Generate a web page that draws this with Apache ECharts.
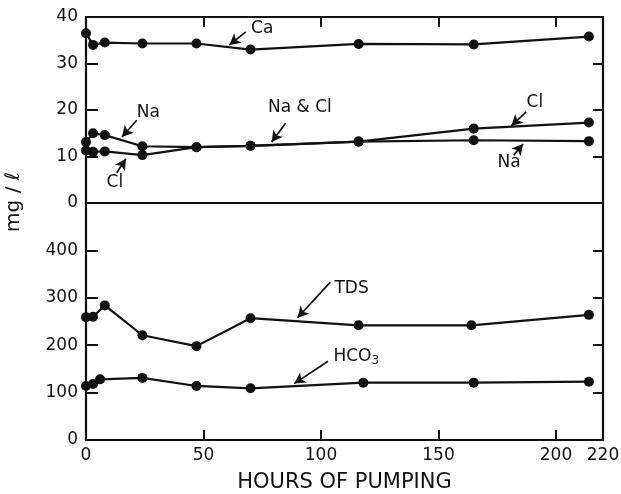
<!DOCTYPE html>
<html><head><meta charset="utf-8">
<script src="https://cdn.jsdelivr.net/npm/echarts@6/dist/echarts.min.js"></script>
<style>html,body{margin:0;padding:0;background:#fff}#c{width:621px;height:494px}</style>
</head><body><div id="c"></div>
<script>
// ---- data ----
const caHours   = [0, 3, 8, 24, 47, 70, 116, 165, 214];
const caValues  = [36.5, 34.0, 34.5, 34.3, 34.3, 33.0, 34.2, 34.1, 35.8];
const naHours   = [0, 3, 8, 24, 47, 70, 116, 165, 214];
const naValues  = [13.1, 15.0, 14.6, 12.2, 12.0, 12.3, 13.2, 13.5, 13.3];
const clHours   = [0, 3, 8, 24, 47, 70, 116, 165, 214];
const clValues  = [11.3, 11.0, 11.1, 10.3, 12.0, 12.3, 13.2, 16.0, 17.3];
const tdsHours  = [0, 3, 8, 24, 47, 70, 116, 164, 214];
const tdsValues = [259, 260, 284, 221, 198, 257, 242, 242, 264];
const hco3Hours = [0, 3, 6, 24, 47, 70, 118, 165, 214];
const hco3Values= [114, 118, 128, 131, 114, 109, 121, 121, 123];
const xTicks = [0, 50, 100, 150, 200, 220];
const topTicks = [0, 10, 20, 30, 40];
const bottomTicks = [0, 100, 200, 300, 400];

const FONT = 'DejaVu Sans';
const K = '#111';
function zip(h, v){ return h.map((x,i)=>[x, v[i]]); }

function ann(labels, arrows, curv){
  return {
    markLine: {
      silent: true, animation: false,
      symbol: ['none','arrow'], symbolSize: [9, 11],
      label: {show:false},
      lineStyle: {color: K, width: 1.7, type: 'solid', curveness: curv || 0},
      data: arrows.map(a => [{coord: a[0]}, {coord: a[1]}])
    },
    markPoint: {
      silent: true, animation: false,
      symbolSize: 0,
      data: labels.map(l => ({coord: l.at, value: l.t,
        label: {show: true, position: 'inside', formatter: l.t,
          color: K, fontFamily: FONT, fontSize: 17,
          rich: {sub: {fontSize: 12, fontFamily: FONT, color: K, padding: [9,0,0,0]}}}}))
    }
  };
}

function line(name, data, xi, yi, extra){
  return Object.assign({
    name, type: 'line', data, xAxisIndex: xi, yAxisIndex: yi,
    symbol: 'circle', symbolSize: 10, showSymbol: true,
    lineStyle: {color: K, width: 2.2}, itemStyle: {color: K},
    animation: false, z: 5
  }, extra || {});
}

const axisLine = {show: true, onZero: false, lineStyle: {color: K, width: 2.2}};
const labelStyle = {color: K, fontFamily: FONT, fontSize: 17};
const tick = (len) => ({show: true, inside: true, length: len, lineStyle: {color: K, width: 2}});

const chart = echarts.init(document.getElementById('c'), null, {renderer: 'canvas'});
chart.setOption({
  backgroundColor: '#fff',
  grid: [
    {left: 86, right: 18, top: 17, height: 186, containLabel: false, outerBoundsMode: 'none'},
    {left: 86, right: 18, top: 203, height: 237, containLabel: false, outerBoundsMode: 'none'}
  ],
  xAxis: [
    {gridIndex: 0, type: 'value', min: 0, max: 220, interval: 50, position: 'bottom',
     axisLine, axisTick: {show: false}, axisLabel: {show: false}, splitLine: {show: false}},
    {gridIndex: 0, type: 'value', min: 0, max: 220, interval: 50, position: 'top',
     axisLine, axisTick: tick(10), axisLabel: {show: false}, splitLine: {show: false}},
    {gridIndex: 1, type: 'value', min: 0, max: 220, interval: 50, position: 'bottom',
     axisLine, axisTick: tick(10),
     axisLabel: Object.assign({margin: 7, showMaxLabel: true}, labelStyle), splitLine: {show: false},
     name: 'HOURS OF PUMPING', nameLocation: 'middle', nameGap: 32,
     nameTextStyle: {color: K, fontFamily: FONT, fontSize: 21}}
  ],
  yAxis: [
    {gridIndex: 0, type: 'value', min: 0, max: 40, interval: 10, position: 'left',
     axisLine, axisTick: tick(12),
     axisLabel: Object.assign({margin: 8}, labelStyle), splitLine: {show: false}},
    {gridIndex: 0, type: 'value', min: 0, max: 40, interval: 10, position: 'right',
     axisLine, axisTick: tick(10), axisLabel: {show: false}, splitLine: {show: false}},
    {gridIndex: 1, type: 'value', min: 0, max: 500, interval: 100, position: 'left',
     axisLine, axisTick: tick(12),
     axisLabel: Object.assign({margin: 8, showMaxLabel: false}, labelStyle), splitLine: {show: false}},
    {gridIndex: 1, type: 'value', min: 0, max: 500, interval: 100, position: 'right',
     axisLine, axisTick: tick(10), axisLabel: {show: false}, splitLine: {show: false}}
  ],
  graphic: [
    {type: 'text', left: 4, top: 172, rotation: Math.PI/2, z: 10,
     style: {text: 'mg / ℓ', font: '20px "DejaVu Sans"', fill: K}}
  ],
  series: [
    line('Ca', zip(caHours, caValues), 0, 0,
      ann([{t: 'Ca', at: [75, 37.6]}], [[[68, 36.8], [61, 34.0]]])),
    line('Na', zip(naHours, naValues), 0, 0,
      ann([{t: 'Na', at: [26.5, 19.4]}, {t: 'Na & Cl', at: [91, 20.6]}, {t: 'Na', at: [180, 8.6]}],
          [[[21.6, 17.8], [15.3, 14.2]], [[85, 17.2], [79, 13.1]], [[182, 10.3], [186, 12.7]]])),
    line('Cl', zip(clHours, clValues), 0, 0,
      ann([{t: 'Cl', at: [12.3, 4.3]}, {t: 'Cl', at: [191, 21.5]}],
          [[[13.1, 6.5], [17, 9.5]], [[187.3, 19.6], [181, 16.6]]])),
    line('TDS', zip(tdsHours, tdsValues), 2, 2,
      ann([{t: 'TDS', at: [113, 320]}], [[[104, 333], [90, 258]]], -0.3)),
    line('HCO3', zip(hco3Hours, hco3Values), 2, 2,
      ann([{t: 'HCO{sub|3}', at: [115, 177]}], [[[103, 166], [88.6, 119]]], -0.3))
  ]
});
</script></body></html>
